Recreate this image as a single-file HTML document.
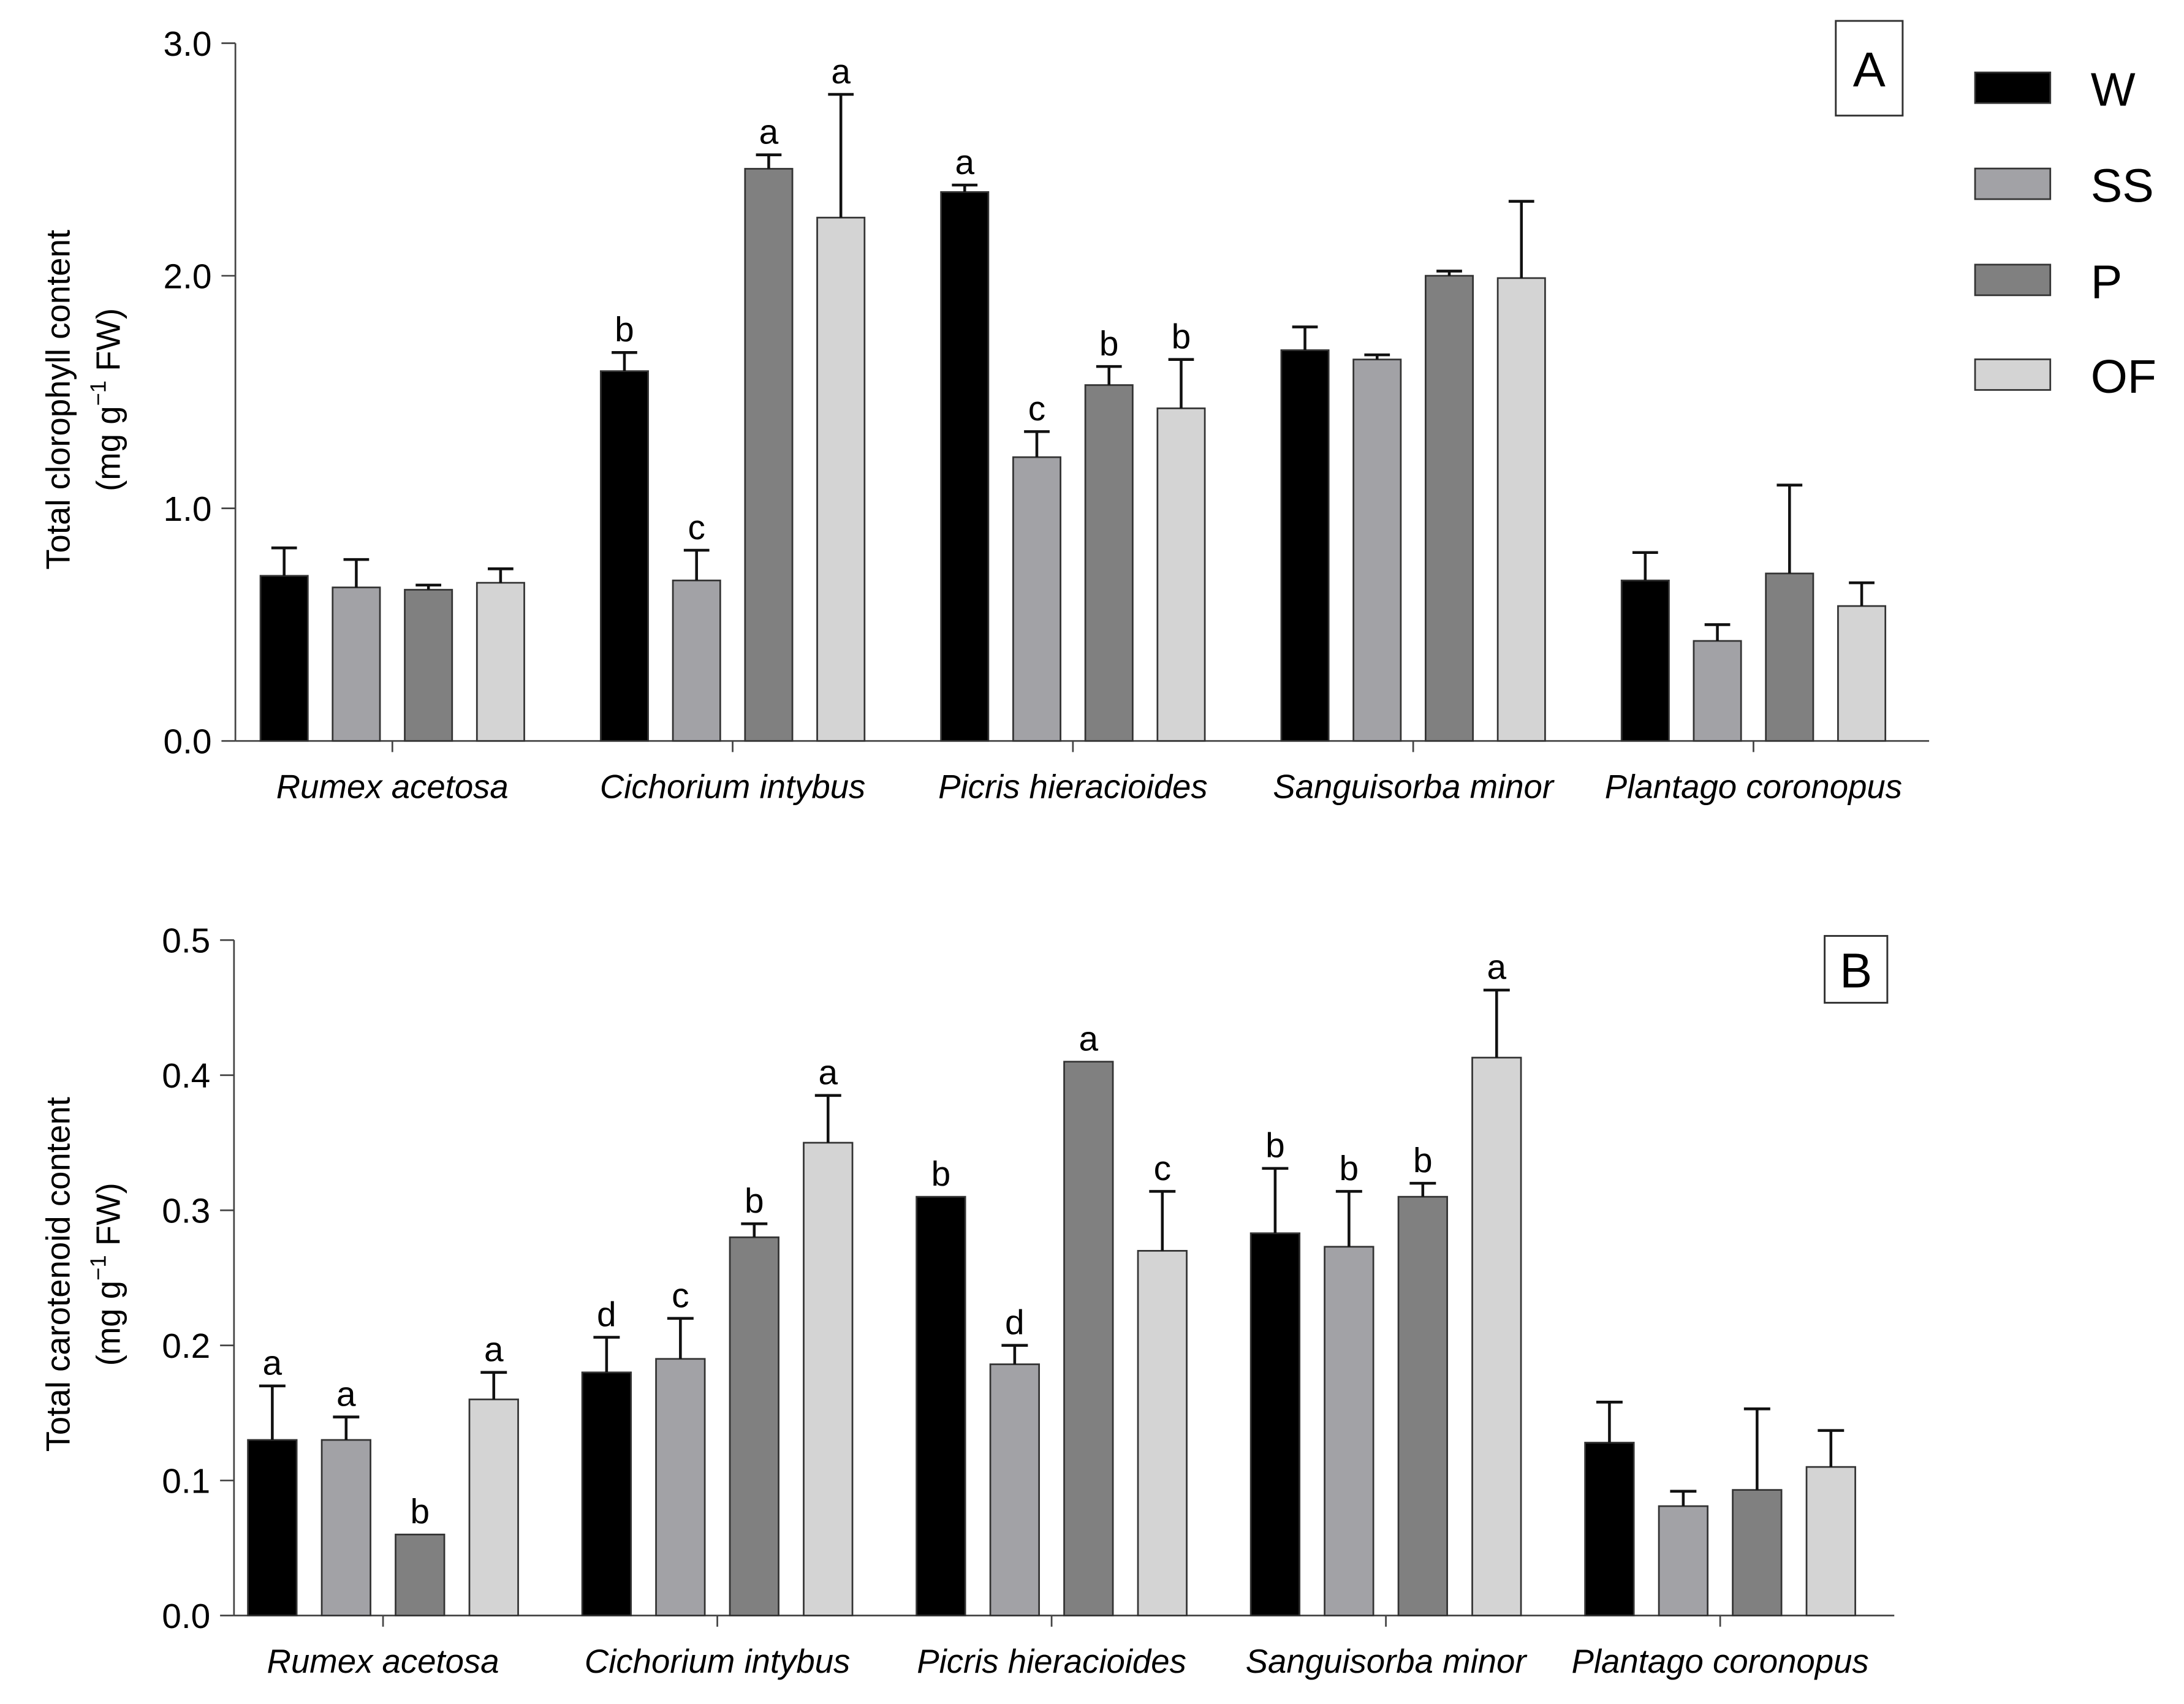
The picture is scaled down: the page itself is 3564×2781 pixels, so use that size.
<!DOCTYPE html>
<html><head><meta charset="utf-8"><style>
html,body{margin:0;padding:0;background:#fff}
svg{display:block}
text{font-family:"Liberation Sans",Arial,sans-serif;fill:#000}
</style></head><body>
<svg id="chart" width="3564" height="2781" viewBox="0 0 1568 1223.5" preserveAspectRatio="none" xmlns="http://www.w3.org/2000/svg">
<g id="root"></g>
</svg>
<script>
const species = ["Rumex acetosa","Cichorium intybus","Picris hieracioides","Sanguisorba minor","Plantago coronopus"];
const treatments = ["W","SS","P","OF"];
const colors = ["#000000","#a2a2a6","#808080","#d4d4d4"];
// Panel A: chlorophyll (per species: W,SS,P,OF)
const chlMean = [[0.71,0.66,0.65,0.68],[1.59,0.69,2.46,2.25],[2.36,1.22,1.53,1.43],[1.68,1.64,2.00,1.99],[0.69,0.43,0.72,0.58]];
const chlErr  = [[0.12,0.12,0.02,0.06],[0.08,0.13,0.06,0.53],[0.03,0.11,0.08,0.21],[0.10,0.02,0.02,0.33],[0.12,0.07,0.38,0.10]];
const chlLetters = [["","","",""],["b","c","a","a"],["a","c","b","b"],["","","",""],["","","",""]];
const chlTicks = [0,1,2,3];
// Panel B: carotenoid
const carMean = [[0.13,0.13,0.06,0.16],[0.18,0.19,0.28,0.35],[0.31,0.186,0.41,0.27],[0.283,0.273,0.31,0.413],[0.128,0.081,0.093,0.11]];
const carErr  = [[0.04,0.017,0,0.02],[0.026,0.03,0.01,0.035],[0,0.014,0,0.044],[0.048,0.041,0.01,0.05],[0.03,0.011,0.06,0.027]];
const carLetters = [["a","a","b","a"],["d","c","b","a"],["b","d","a","c"],["b","b","b","a"],["","","",""]];
const carTicks = [0,0.1,0.2,0.3,0.4,0.5];

const NS="http://www.w3.org/2000/svg";
const root=document.getElementById('root');
function mk(tag,attrs,parent,text){const e=document.createElementNS(NS,tag);for(const k in attrs)e.setAttribute(k,attrs[k]);if(text!==undefined)e.textContent=text;(parent||root).appendChild(e);return e;}

function panel(cfg){
  const g=mk('g',{});
  
  
  const y=v=>cfg.base-(v-cfg.min)/(cfg.max-cfg.min)*(cfg.base-cfg.top);
  const xb=(i,j)=>cfg.x0+i*cfg.gstep+j*cfg.bstep;
  const ya=mk('line',{x1:cfg.ax,y1:cfg.top,x2:cfg.ax,y2:cfg.base,stroke:'#444','stroke-width':1.2},g);
  
  
  const xa=mk('line',{x1:cfg.ax,y1:cfg.base,x2:cfg.axEnd,y2:cfg.base,stroke:'#444','stroke-width':1.2},g);
  
  
  cfg.ticks.forEach(t=>{
    mk('line',{x1:cfg.ax-10,y1:y(t),x2:cfg.ax,y2:y(t),stroke:'#444','stroke-width':1.2},g);
    const tl=mk('text',{x:cfg.ax-17,y:y(t)+9,'text-anchor':'end','font-size':25},g,t.toFixed(1));
    
    
  });
  const tt=mk('text',{transform:`translate(${cfg.titleX},${cfg.titleY}) rotate(-90)`,'text-anchor':'middle','font-size':24},g);
  
  
  mk('tspan',{x:0,dy:0},tt,cfg.title);
  mk('tspan',{x:0,dy:36},tt,'(mg g');
  mk('tspan',{dy:-10,'font-size':16},tt,'−1');
  mk('tspan',{dy:10},tt,' FW)');
  species.forEach((s,i)=>{
    const cx=xb(i,0)+(cfg.bstep*3+cfg.bw)/2;
    mk('line',{x1:cx,y1:cfg.base,x2:cx,y2:cfg.base+8,stroke:'#444','stroke-width':1.2},g);
    const cl=mk('text',{x:cx,y:cfg.base+41,'text-anchor':'middle','font-size':24,'font-style':'italic'},g,s);
    
    
    treatments.forEach((tr,j)=>{
      const m=cfg.mean[i][j],e=cfg.err[i][j],x=xb(i,j);
      const r=mk('rect',{x:x,y:y(m),width:cfg.bw,height:cfg.base-y(m),fill:colors[j],stroke:'#333','stroke-width':1.2},g);
      
      
      const xc=x+cfg.bw/2;
      if(e>0){
        mk('line',{x1:xc,y1:y(m),x2:xc,y2:y(m+e),stroke:'#111','stroke-width':2},g);
        mk('line',{x1:xc-cfg.bw*0.27,y1:y(m+e),x2:xc+cfg.bw*0.27,y2:y(m+e),stroke:'#111','stroke-width':2},g);
      }
      const L=cfg.letters[i][j];
      if(L){
        const lt=mk('text',{x:xc,y:y(m+e)-8,'text-anchor':'middle','font-size':25},g,L);
        
        
      }
    });
  });
  const bx=mk('rect',{x:cfg.box[0],y:cfg.box[1],width:cfg.box[2],height:cfg.box[3],fill:'#fff',stroke:'#333','stroke-width':1.3},g);
  
  
  const bl=mk('text',{x:cfg.box[0]+cfg.box[2]/2,y:cfg.box[1]+cfg.box[3]/2+13,'text-anchor':'middle','font-size':35},g,cfg.label);
  
  
}

panel({name:'panel-a-chlorophyll',min:0,max:3,top:31,base:532,ax:169,axEnd:1385,x0:187,gstep:244.3,bstep:51.8,bw:34,
  ticks:chlTicks,mean:chlMean,err:chlErr,letters:chlLetters,title:'Total clorophyll content',titleX:50,titleY:287,
  box:[1318,15,48,68],label:'A'});
panel({name:'panel-b-carotenoid',min:0,max:0.5,top:675,base:1160,ax:168,axEnd:1360,x0:178,gstep:240,bstep:53,bw:35,
  ticks:carTicks,mean:carMean,err:carErr,letters:carLetters,title:'Total carotenoid content',titleX:50,titleY:915,
  box:[1310,672,45,48],label:'B'});

const lg=mk('g',{});


const ly=[52,121,190,258];
treatments.forEach((t,j)=>{
  const r=mk('rect',{x:1418,y:ly[j],width:54,height:22,fill:colors[j],stroke:'#333','stroke-width':1.2},lg);
  
  
  const tx=mk('text',{x:1501,y:ly[j]+24,'font-size':34},lg,t);
  
  
});
</script>
</body></html>
